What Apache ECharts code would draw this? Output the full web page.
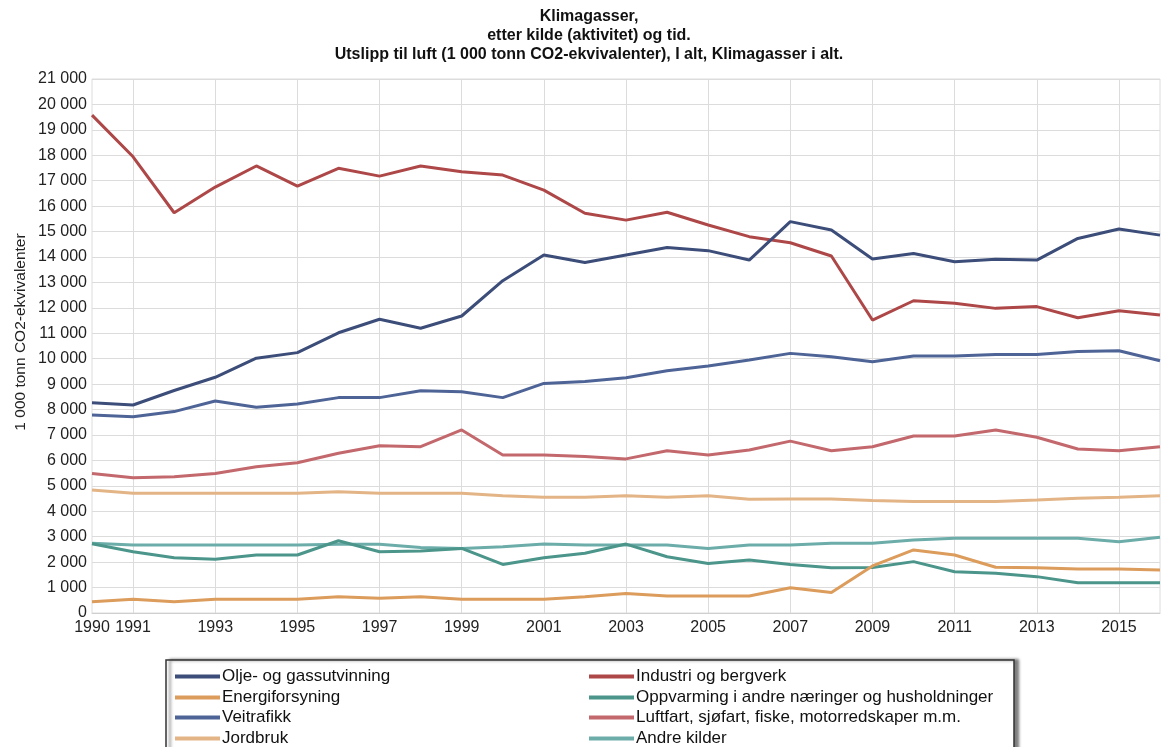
<!DOCTYPE html>
<html>
<head>
<meta charset="utf-8">
<script src="https://cdn.jsdelivr.net/npm/echarts@6/dist/echarts.min.js"></script>
<style>
html,body{margin:0;padding:0;background:#fff;}
#c{width:1165px;height:747px;}
</style>
</head>
<body>
<div id="c"></div>
<script>
const years = ['1990','1991','1992','1993','1994','1995','1996','1997','1998','1999','2000','2001','2002','2003','2004','2005','2006','2007','2008','2009','2010','2011','2012','2013','2014','2015','2016'];

const olje = [8270,8180,8750,9270,10020,10240,11020,11550,11200,11680,13070,14080,13780,14080,14370,14250,13880,15390,15060,13920,14140,13810,13910,13880,14730,15100,14860];
const industri = [19580,17940,15740,16750,17580,16790,17490,17180,17580,17350,17220,16630,15720,15450,15760,15260,14800,14560,14040,11520,12280,12180,11980,12050,11610,11890,11720];
const energi = [440,540,440,540,540,540,640,580,640,540,540,540,640,770,670,670,670,990,810,1850,2480,2280,1800,1780,1730,1730,1690];
const oppvarming = [2720,2410,2170,2110,2280,2280,2840,2410,2440,2540,1910,2170,2350,2710,2210,1950,2080,1910,1780,1790,2020,1620,1560,1430,1190,1190,1190];
const veitrafikk = [7790,7720,7920,8340,8090,8220,8470,8470,8740,8700,8470,9030,9100,9250,9530,9710,9950,10210,10080,9880,10110,10110,10170,10170,10280,10310,9920];
const luftfart = [5490,5320,5360,5490,5750,5910,6280,6580,6540,7200,6210,6210,6150,6060,6380,6210,6410,6760,6380,6540,6960,6960,7200,6910,6450,6380,6540];
const jordbruk = [4840,4710,4710,4710,4710,4710,4770,4710,4710,4710,4610,4550,4550,4610,4550,4610,4470,4480,4480,4420,4380,4380,4380,4440,4510,4550,4610];
const andre = [2740,2670,2670,2670,2670,2670,2700,2700,2580,2540,2610,2710,2670,2670,2670,2540,2670,2670,2740,2740,2870,2940,2940,2940,2940,2800,2980];

const names = ['Olje- og gassutvinning','Industri og bergverk','Energiforsyning','Oppvarming i andre næringer og husholdninger','Veitrafikk','Luftfart, sjøfart, fiske, motorredskaper m.m.','Jordbruk','Andre kilder'];
const values = [olje, industri, energi, oppvarming, veitrafikk, luftfart, jordbruk, andre];
const colors = ['#3b4d78','#ae4747','#dc9c5c','#4b958b','#4e6497','#c3686c','#e3b486','#6cadaa'];

const chart = echarts.init(document.getElementById('c'), null, {renderer:'canvas'});
const fmt = v => { const s = String(v); return s.length > 3 ? s.slice(0, s.length-3) + ' ' + s.slice(-3) : s; };
const showYear = (i) => i === 0 || i === 1 || (parseInt(years[i]) % 2 === 1);
const sans = '"Liberation Sans", Arial, sans-serif';

const rowTops = [668, 689, 709, 730];
const colLefts = [175, 589];
const legends = names.map((n, k) => ({
  orient: 'horizontal', left: colLefts[k % 2], top: rowTops[Math.floor(k / 2)], padding: 0,
  itemWidth: 45, itemHeight: 4, icon: 'rect', data: [n], selectedMode: false,
  textStyle: {fontFamily: sans, fontSize: 17, color: '#111', padding: [0,0,0,-3]}
}));

chart.setOption({
  animation: false,
  backgroundColor: '#fff',
  title: {
    text: 'Klimagasser,\netter kilde (aktivitet) og tid.\nUtslipp til luft (1 000 tonn CO2-ekvivalenter), I alt, Klimagasser i alt.',
    left: 589, top: 7, textAlign: 'center', padding: 0,
    textStyle: {fontFamily: sans, fontWeight: 'bold', fontSize: 16, lineHeight: 19, color: '#111'}
  },
  graphic: [{
    type: 'rect', shape: {x: 166, y: 660, width: 848, height: 95},
    style: {fill: '#fff', stroke: '#333', lineWidth: 1.5, shadowColor: 'rgba(0,0,0,0.5)', shadowOffsetX: 4, shadowOffsetY: 0, shadowBlur: 3}, z: -1
  }, {
    type: 'text', x: 21, y: 332, rotation: Math.PI / 2,
    style: {text: '1 000 tonn CO2-ekvivalenter', fontFamily: sans, fontSize: 15.5, fill: '#222', align: 'center', verticalAlign: 'middle'}
  }],
  legend: legends,
  grid: {left: 92, right: 5, top: 79, bottom: 134, show: true, borderColor: '#dcdcdc', borderWidth: 1},
  xAxis: {
    type: 'category', data: years, boundaryGap: false,
    axisLine: {lineStyle: {color: '#cfcfcf'}},
    axisTick: {show: false},
    axisLabel: {interval: (i) => showYear(i), fontFamily: sans, fontSize: 16, color: '#222', margin: 7},
    splitLine: {show: true, interval: (i) => i > 0 && showYear(i), lineStyle: {color: '#dcdcdc', width: 1}}
  },
  yAxis: {
    type: 'value', min: 0, max: 21000, interval: 1000,
    axisLine: {show: false}, axisTick: {show: false},
    axisLabel: {formatter: fmt, fontFamily: sans, fontSize: 16, color: '#222', margin: 5},
    splitLine: {lineStyle: {color: '#dcdcdc', width: 1}}
  },
  series: names.map((n, k) => ({
    name: n, type: 'line', data: values[k], symbol: 'none', color: colors[k],
    lineStyle: {width: 3, color: colors[k]}, z: 10 - k
  }))
});
</script>
</body>
</html>
